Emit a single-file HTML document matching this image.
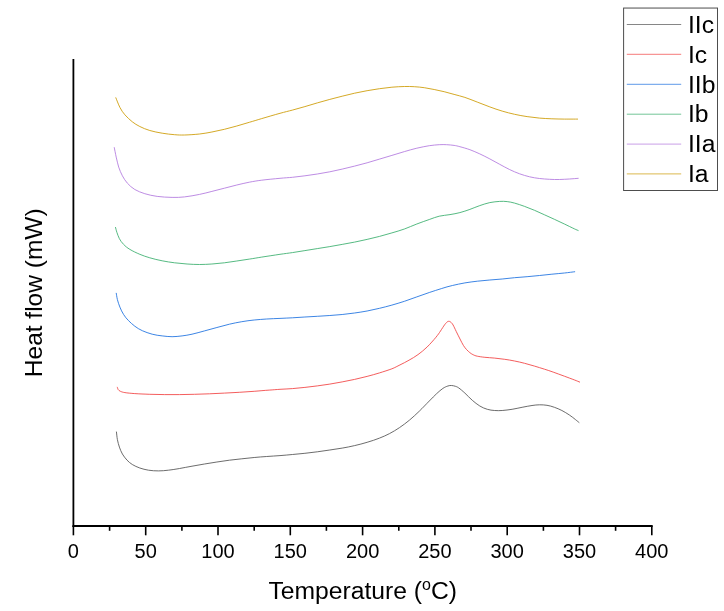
<!DOCTYPE html>
<html lang="en"><head><meta charset="utf-8"><title>Heat flow vs Temperature</title>
<style>
html,body{margin:0;padding:0;background:#fff;}
body{width:724px;height:611px;overflow:hidden;}
svg{display:block;}
svg text{font-family:"Liberation Sans",Arial,sans-serif;fill:#000;}
.tick{font-size:20px;text-anchor:middle;}
.title{font-size:24.7px;text-anchor:middle;}
.leg{font-size:24.7px;}
.curve{fill:none;stroke-width:0.85;stroke-linecap:butt;stroke-linejoin:round;}
</style></head>
<body>
<svg width="724" height="611" viewBox="0 0 724 611">
<rect x="0" y="0" width="724" height="611" fill="#ffffff"/>
<path class="curve" stroke="#515151" d="M116.4 431.6C116.6 432.9 116.9 437.0 117.4 439.6C117.9 442.2 118.6 444.7 119.4 447.1C120.2 449.5 121.2 451.9 122.4 454.0C123.7 456.1 125.2 458.2 126.9 460.0C128.6 461.8 130.2 463.2 132.3 464.5C134.5 465.8 137.1 467.1 139.8 468.0C142.5 468.9 145.4 469.7 148.5 470.2C151.6 470.7 155.2 470.9 158.5 470.9C161.8 470.9 164.9 470.6 168.4 470.2C171.9 469.8 175.7 469.2 179.6 468.5C183.5 467.8 187.8 466.9 192.0 466.2C196.2 465.4 200.3 464.7 204.5 464.0C208.7 463.3 212.8 462.6 216.9 462.0C221.1 461.4 225.2 460.7 229.4 460.2C233.6 459.7 237.7 459.2 241.8 458.8C245.9 458.4 250.0 457.9 254.2 457.5C258.3 457.1 262.4 456.8 266.7 456.5C271.0 456.2 275.7 455.9 280.0 455.6C284.3 455.3 288.2 454.9 292.4 454.5C296.5 454.1 300.8 453.8 304.9 453.3C309.0 452.9 313.1 452.4 317.3 451.8C321.5 451.2 325.7 450.6 329.8 450.0C333.9 449.4 338.1 448.8 342.2 448.1C346.3 447.4 350.5 446.6 354.6 445.6C358.8 444.6 363.0 443.6 367.1 442.3C371.2 441.1 375.8 439.6 379.5 438.1C383.2 436.7 386.2 435.3 389.5 433.6C392.8 431.9 396.1 429.9 399.4 427.7C402.7 425.5 406.1 422.9 409.4 420.2C412.7 417.4 416.0 414.4 419.3 411.2C422.6 408.0 426.4 403.9 429.3 401.0C432.2 398.1 434.4 395.7 436.7 393.6C439.0 391.5 441.0 389.7 442.9 388.4C444.8 387.1 446.4 386.5 447.9 386.0C449.3 385.5 450.4 385.4 451.6 385.5C452.9 385.6 454.2 385.9 455.4 386.3C456.6 386.7 457.1 386.8 458.7 387.9C460.3 389.0 462.6 391.0 464.9 393.1C467.2 395.2 469.8 398.2 472.3 400.3C474.8 402.4 477.3 404.5 479.8 406.0C482.3 407.5 484.8 408.6 487.3 409.3C489.8 410.1 492.2 410.3 494.7 410.5C497.2 410.7 499.3 410.7 502.2 410.5C505.1 410.3 508.8 409.8 512.1 409.3C515.4 408.8 518.8 407.9 522.1 407.3C525.4 406.7 529.1 405.9 532.0 405.5C534.9 405.1 537.0 404.8 539.5 404.8C542.0 404.8 544.5 404.9 547.0 405.3C549.5 405.7 551.9 406.4 554.4 407.3C556.9 408.2 559.4 409.2 561.9 410.5C564.4 411.8 567.1 413.5 569.4 415.0C571.7 416.5 574.0 418.4 575.6 419.7C577.2 421.0 578.7 422.2 579.3 422.7"/>
<path class="curve" stroke="#F14040" d="M117.2 386.9C117.4 387.3 117.7 388.9 118.2 389.6C118.7 390.3 119.3 390.8 120.4 391.3C121.5 391.8 122.5 392.2 124.9 392.6C127.3 393.0 130.7 393.3 134.8 393.6C139.0 393.9 144.8 394.1 149.8 394.3C154.8 394.5 159.7 394.6 164.7 394.6C169.7 394.7 174.6 394.7 179.6 394.6C184.6 394.6 189.5 394.4 194.5 394.3C199.5 394.2 204.5 394.0 209.5 393.8C214.5 393.6 219.4 393.4 224.4 393.1C229.4 392.9 234.3 392.6 239.3 392.3C244.3 392.0 249.2 391.7 254.2 391.3C259.2 390.9 264.9 390.4 269.2 390.1C273.5 389.8 276.1 389.6 280.0 389.3C283.9 389.1 288.2 388.9 292.4 388.6C296.5 388.3 300.8 387.8 304.9 387.4C309.0 386.9 313.1 386.4 317.3 385.9C321.5 385.3 325.7 384.8 329.8 384.1C333.9 383.4 338.1 382.7 342.2 381.9C346.3 381.1 350.5 380.3 354.6 379.4C358.8 378.5 363.0 377.5 367.1 376.4C371.2 375.3 375.4 374.2 379.5 372.9C383.6 371.6 388.5 370.1 391.9 368.8C395.3 367.5 397.1 366.3 400.0 364.9C402.9 363.5 406.0 361.9 409.0 360.2C412.0 358.5 415.0 356.8 418.0 354.6C421.0 352.4 424.0 350.0 427.0 347.1C430.0 344.2 433.8 339.9 436.0 337.2C438.2 334.5 439.1 333.1 440.5 331.0C441.9 328.9 443.5 326.3 444.6 324.8C445.7 323.3 446.2 322.8 446.9 322.2C447.6 321.6 448.0 321.3 448.6 321.3C449.2 321.3 449.9 321.4 450.6 322.0C451.4 322.6 452.2 323.4 453.1 325.0C454.0 326.6 455.1 329.1 456.2 331.4C457.3 333.7 458.8 336.6 460.0 339.0C461.2 341.4 462.4 343.8 463.5 345.6C464.6 347.4 465.6 348.4 466.6 349.6C467.7 350.8 468.8 351.8 469.8 352.6C470.9 353.4 471.6 354.0 472.9 354.6C474.1 355.2 475.3 355.8 477.3 356.2C479.3 356.6 481.9 357.0 484.8 357.3C487.7 357.6 491.4 357.8 494.7 358.1C498.0 358.4 501.4 358.8 504.7 359.3C508.0 359.8 511.3 360.3 514.6 361.0C517.9 361.7 521.3 362.4 524.6 363.3C527.9 364.2 531.2 365.1 534.5 366.1C537.8 367.1 541.4 368.2 544.5 369.2C547.6 370.2 549.9 370.9 553.2 372.1C556.5 373.3 560.9 374.9 564.4 376.2C567.9 377.5 571.7 378.9 574.3 379.9C576.9 380.9 579.0 381.8 580.0 382.2"/>
<path class="curve" stroke="#1A6FDF" d="M116.2 292.9C116.4 294.0 116.8 297.2 117.4 299.6C118.0 302.0 118.9 304.6 119.9 307.1C120.9 309.6 122.1 312.2 123.6 314.5C125.0 316.8 126.7 318.8 128.6 320.7C130.5 322.6 132.5 324.5 134.8 326.2C137.1 327.9 139.4 329.4 142.3 330.7C145.2 332.0 148.9 333.3 152.2 334.2C155.5 335.1 158.9 335.5 162.2 335.9C165.5 336.3 168.8 336.7 172.1 336.7C175.4 336.7 178.8 336.3 182.1 335.9C185.4 335.5 188.3 335.0 192.0 334.2C195.7 333.4 200.3 332.0 204.5 330.9C208.7 329.8 212.8 328.6 216.9 327.5C221.1 326.4 225.2 325.2 229.4 324.2C233.6 323.2 237.7 322.4 241.8 321.7C245.9 321.0 250.0 320.4 254.2 320.0C258.3 319.6 262.4 319.3 266.7 319.0C271.0 318.7 275.7 318.6 280.0 318.4C284.3 318.2 288.2 318.0 292.4 317.8C296.5 317.6 300.8 317.2 304.9 317.0C309.0 316.8 313.1 316.6 317.3 316.3C321.5 316.1 325.7 315.8 329.8 315.5C333.9 315.2 338.1 314.9 342.2 314.5C346.3 314.1 350.5 313.6 354.6 313.0C358.8 312.4 363.0 311.8 367.1 311.0C371.2 310.2 375.4 309.3 379.5 308.3C383.6 307.3 387.8 306.3 391.9 305.1C396.0 303.9 400.2 302.7 404.4 301.3C408.5 299.9 412.6 298.4 416.8 296.9C421.0 295.4 425.2 293.9 429.3 292.5C433.4 291.1 437.9 289.7 441.7 288.5C445.5 287.3 448.5 286.4 452.4 285.5C456.3 284.6 460.8 283.6 464.9 282.9C469.0 282.2 473.1 281.7 477.3 281.2C481.5 280.7 485.7 280.4 489.8 280.0C493.9 279.6 498.1 279.4 502.2 279.0C506.3 278.6 510.5 278.1 514.6 277.7C518.8 277.3 523.0 277.1 527.1 276.7C531.2 276.3 535.4 275.9 539.5 275.5C543.6 275.1 547.8 274.6 551.9 274.2C556.0 273.8 560.5 273.4 564.4 273.0C568.3 272.6 573.3 271.9 575.1 271.7"/>
<path class="curve" stroke="#37AD6B" d="M115.4 227.0C115.7 227.9 116.2 230.5 116.9 232.4C117.6 234.3 118.3 236.7 119.4 238.7C120.5 240.7 121.8 242.6 123.6 244.4C125.3 246.2 127.2 247.8 129.9 249.4C132.6 251.1 136.5 252.9 139.8 254.3C143.1 255.7 146.1 256.7 149.8 257.8C153.5 258.9 158.1 260.0 162.2 260.8C166.3 261.6 170.4 262.3 174.6 262.8C178.8 263.3 182.9 263.7 187.1 264.0C191.2 264.3 195.4 264.5 199.5 264.5C203.6 264.5 207.8 264.3 211.9 264.0C216.1 263.7 220.2 263.3 224.4 262.8C228.6 262.3 232.7 261.6 236.8 261.0C241.0 260.4 245.2 259.8 249.3 259.1C253.5 258.5 256.6 257.9 261.7 257.1C266.8 256.3 274.9 255.1 280.0 254.3C285.1 253.6 288.2 253.2 292.4 252.6C296.5 252.0 300.8 251.3 304.9 250.6C309.0 249.9 313.1 249.3 317.3 248.6C321.5 247.9 325.7 247.3 329.8 246.6C333.9 245.9 338.1 245.2 342.2 244.4C346.3 243.7 350.5 242.9 354.6 242.1C358.8 241.3 363.0 240.3 367.1 239.4C371.2 238.5 375.4 237.5 379.5 236.4C383.6 235.3 387.8 234.1 391.9 232.9C396.0 231.7 400.2 230.5 404.4 229.0C408.5 227.5 412.6 225.6 416.8 224.0C421.0 222.4 425.6 220.8 429.3 219.5C433.0 218.2 435.8 217.0 439.2 216.2C442.6 215.4 446.6 215.2 450.0 214.6C453.4 214.0 456.6 213.5 459.9 212.6C463.2 211.7 466.6 210.6 469.9 209.4C473.2 208.2 476.5 206.7 479.8 205.6C483.1 204.5 486.5 203.3 489.8 202.6C493.1 201.9 496.8 201.6 499.7 201.4C502.6 201.2 504.7 201.3 507.2 201.6C509.7 201.9 511.7 202.3 514.6 203.1C517.5 203.9 521.3 205.2 524.6 206.4C527.9 207.6 531.2 208.9 534.5 210.3C537.8 211.7 541.2 213.3 544.5 214.8C547.8 216.3 551.1 217.8 554.4 219.3C557.7 220.8 561.1 222.4 564.4 224.0C567.7 225.6 571.9 227.7 574.3 228.8C576.6 229.9 577.8 230.3 578.5 230.6"/>
<path class="curve" stroke="#B177DE" d="M114.2 147.2C114.5 148.8 115.5 153.8 116.2 157.1C117.0 160.4 117.7 164.0 118.7 167.1C119.7 170.2 121.0 173.1 122.4 175.8C123.9 178.5 125.3 180.9 127.4 183.2C129.5 185.5 131.9 187.8 134.8 189.5C137.7 191.2 141.1 192.5 144.8 193.7C148.5 194.8 152.6 195.8 157.2 196.4C161.8 197.0 167.5 197.3 172.1 197.4C176.7 197.5 180.0 197.4 184.6 196.9C189.2 196.4 194.9 195.3 199.5 194.4C204.1 193.5 207.8 192.4 211.9 191.4C216.1 190.4 220.2 189.3 224.4 188.2C228.6 187.1 232.7 186.0 236.8 185.0C241.0 184.0 245.2 183.0 249.3 182.2C253.5 181.4 256.6 180.8 261.7 180.2C266.8 179.5 274.9 178.8 280.0 178.3C285.1 177.8 288.2 177.7 292.4 177.3C296.5 176.9 300.8 176.4 304.9 175.8C309.0 175.2 313.1 174.7 317.3 174.0C321.5 173.3 325.7 172.6 329.8 171.8C333.9 171.0 338.1 170.1 342.2 169.1C346.3 168.1 350.5 167.1 354.6 166.1C358.8 165.1 363.0 164.0 367.1 162.8C371.2 161.6 375.4 160.3 379.5 159.1C383.6 157.9 387.8 156.7 391.9 155.4C396.0 154.2 400.2 152.8 404.4 151.6C408.5 150.4 412.6 149.2 416.8 148.2C421.0 147.2 425.6 146.3 429.3 145.7C433.0 145.1 436.3 144.9 439.2 144.7C442.1 144.5 444.2 144.6 446.7 144.7C449.2 144.8 451.9 145.1 454.1 145.4C456.3 145.7 457.3 146.0 459.9 146.7C462.5 147.4 466.6 148.5 469.9 149.7C473.2 150.9 476.5 152.4 479.8 153.9C483.1 155.4 486.5 157.2 489.8 158.9C493.1 160.6 496.4 162.5 499.7 164.3C503.0 166.1 506.4 168.0 509.7 169.6C513.0 171.2 516.3 172.6 519.6 173.8C522.9 175.0 526.3 176.0 529.6 176.8C532.9 177.6 536.2 178.1 539.5 178.5C542.8 178.9 546.2 179.1 549.5 179.3C552.8 179.5 556.1 179.6 559.4 179.5C562.7 179.4 566.2 179.2 569.4 179.0C572.6 178.8 577.1 178.4 578.6 178.3"/>
<path class="curve" stroke="#CC9900" d="M115.7 97.4C116.4 99.1 118.4 104.5 119.9 107.4C121.4 110.3 122.8 112.4 124.9 114.8C127.0 117.2 129.8 119.8 132.3 121.8C134.8 123.8 136.9 125.0 139.8 126.5C142.7 128.0 146.1 129.4 149.8 130.5C153.5 131.6 158.1 132.5 162.2 133.2C166.3 133.9 170.9 134.4 174.6 134.7C178.3 135.0 180.4 135.1 184.6 135.0C188.8 134.9 194.9 134.5 199.5 134.0C204.1 133.5 207.8 132.8 211.9 132.0C216.1 131.2 220.2 130.3 224.4 129.3C228.6 128.3 232.7 127.2 236.8 126.0C241.0 124.8 245.2 123.5 249.3 122.3C253.5 121.1 256.6 120.1 261.7 118.6C266.8 117.1 274.9 114.7 280.0 113.3C285.1 111.9 288.2 111.2 292.4 110.1C296.5 109.0 300.8 107.8 304.9 106.6C309.0 105.4 313.1 104.1 317.3 102.9C321.5 101.7 325.7 100.5 329.8 99.4C333.9 98.3 338.1 97.2 342.2 96.2C346.3 95.2 350.5 94.1 354.6 93.2C358.8 92.3 363.0 91.5 367.1 90.7C371.2 90.0 375.4 89.3 379.5 88.7C383.6 88.1 387.8 87.6 391.9 87.2C396.0 86.8 400.7 86.6 404.4 86.5C408.1 86.4 411.0 86.5 414.3 86.7C417.6 86.9 421.0 87.2 424.3 87.7C427.6 88.2 430.9 88.8 434.2 89.5C437.5 90.2 440.9 90.9 444.2 91.7C447.5 92.5 450.7 93.5 454.1 94.4C457.6 95.4 461.0 96.1 464.9 97.4C468.8 98.7 473.1 100.5 477.3 102.1C481.5 103.7 485.7 105.4 489.8 106.9C493.9 108.4 498.1 109.9 502.2 111.1C506.3 112.3 510.5 113.4 514.6 114.3C518.8 115.2 523.0 116.0 527.1 116.6C531.2 117.2 535.4 117.7 539.5 118.1C543.6 118.5 547.8 118.6 551.9 118.8C556.0 119.0 560.0 119.0 564.4 119.1C568.8 119.1 575.7 119.1 578.0 119.1"/>
<g stroke="#000" stroke-width="1.8" fill="none">
<line x1="73.4" y1="59" x2="73.4" y2="526.9"/>
<line x1="72.5" y1="526" x2="652.7" y2="526"/>
<line x1="73.4" y1="526" x2="73.4" y2="535.3" stroke-width="1.6"/>
<line x1="145.7" y1="526" x2="145.7" y2="535.3" stroke-width="1.6"/>
<line x1="218.0" y1="526" x2="218.0" y2="535.3" stroke-width="1.6"/>
<line x1="290.3" y1="526" x2="290.3" y2="535.3" stroke-width="1.6"/>
<line x1="362.6" y1="526" x2="362.6" y2="535.3" stroke-width="1.6"/>
<line x1="434.9" y1="526" x2="434.9" y2="535.3" stroke-width="1.6"/>
<line x1="507.2" y1="526" x2="507.2" y2="535.3" stroke-width="1.6"/>
<line x1="579.5" y1="526" x2="579.5" y2="535.3" stroke-width="1.6"/>
<line x1="651.8" y1="526" x2="651.8" y2="535.3" stroke-width="1.6"/>
<line x1="109.6" y1="526" x2="109.6" y2="530.8" stroke-width="1.6"/>
<line x1="181.9" y1="526" x2="181.9" y2="530.8" stroke-width="1.6"/>
<line x1="254.2" y1="526" x2="254.2" y2="530.8" stroke-width="1.6"/>
<line x1="326.4" y1="526" x2="326.4" y2="530.8" stroke-width="1.6"/>
<line x1="398.8" y1="526" x2="398.8" y2="530.8" stroke-width="1.6"/>
<line x1="471.0" y1="526" x2="471.0" y2="530.8" stroke-width="1.6"/>
<line x1="543.4" y1="526" x2="543.4" y2="530.8" stroke-width="1.6"/>
<line x1="615.6" y1="526" x2="615.6" y2="530.8" stroke-width="1.6"/>
</g>
<text class="tick" x="73.4" y="557.6">0</text>
<text class="tick" x="145.7" y="557.6">50</text>
<text class="tick" x="218.0" y="557.6">100</text>
<text class="tick" x="290.3" y="557.6">150</text>
<text class="tick" x="362.6" y="557.6">200</text>
<text class="tick" x="434.9" y="557.6">250</text>
<text class="tick" x="507.2" y="557.6">300</text>
<text class="tick" x="579.5" y="557.6">350</text>
<text class="tick" x="651.8" y="557.6">400</text>
<text class="title" x="362.7" y="598.9">Temperature (<tspan font-size="16" dy="-8.9">o</tspan><tspan dy="8.9">C)</tspan></text>
<text class="title" style="font-size:24.5px" transform="translate(42.1 292.8) rotate(-90)">Heat flow (mW)</text>
<rect x="623.6" y="8.05" width="93.9" height="182.45" fill="#fff" stroke="#4d4d4d" stroke-width="1"/>
<line x1="626.8" y1="24.5" x2="681.2" y2="24.5" stroke="#515151" stroke-width="0.7"/>
<text class="leg" x="688" y="32.7">IIc</text>
<line x1="626.8" y1="54.3" x2="681.2" y2="54.3" stroke="#F14040" stroke-width="0.7"/>
<text class="leg" x="688" y="62.5">Ic</text>
<line x1="626.8" y1="84.3" x2="681.2" y2="84.3" stroke="#1A6FDF" stroke-width="0.7"/>
<text class="leg" x="688" y="92.5">IIb</text>
<line x1="626.8" y1="114.2" x2="681.2" y2="114.2" stroke="#37AD6B" stroke-width="0.7"/>
<text class="leg" x="688" y="122.4">Ib</text>
<line x1="626.8" y1="144.1" x2="681.2" y2="144.1" stroke="#B177DE" stroke-width="0.7"/>
<text class="leg" x="688" y="152.3">IIa</text>
<line x1="626.8" y1="173.9" x2="681.2" y2="173.9" stroke="#CC9900" stroke-width="0.7"/>
<text class="leg" x="688" y="182.1">Ia</text>
</svg>
</body></html>
